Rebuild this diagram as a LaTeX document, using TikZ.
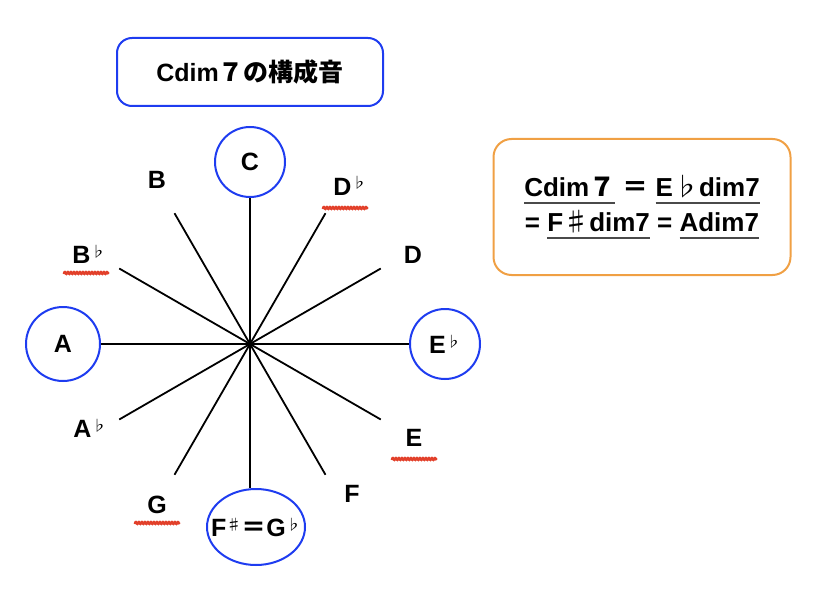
\documentclass[tikz,border=0pt]{standalone}
\usepackage{fontspec}
\setmainfont{Liberation Sans}
\newfontfamily\jpfont{Noto Sans CJK JP}
\usetikzlibrary{positioning, calc, shapes.geometric, decorations.pathmorphing}
\definecolor{cblue}{HTML}{1E3CF0}
\definecolor{corange}{HTML}{F0A044}
\definecolor{cred}{HTML}{E2402A}
\definecolor{cgrey}{HTML}{4A4A4A}
% small raised flat / sharp signs
\newcommand\fl{\raisebox{6pt}{\jpfont\mdseries\fontsize{15}{15}\selectfont ♭}}
\newcommand\shp{\raisebox{6pt}{\jpfont\mdseries\fontsize{15}{15}\selectfont ♯}}
\newsavebox\glinebox
\newcommand\gline[1]{\sbox\glinebox{#1}\rlap{\textcolor{cgrey}{\rule[-7pt]{\wd\glinebox}{1.8pt}}}\usebox\glinebox}
\tikzset{
  every picture/.style={font=\fontsize{25}{30}\selectfont\bfseries, line width=2pt},
  panel/.style={draw=#1, rounded corners=15pt, align=center, inner sep=0pt},
  ring/.style={draw=cblue, circle, inner sep=0pt},
  spoke/.style={draw=black, line width=1.8pt},
  redline/.style={draw=cred, line width=3pt, line cap=round, decorate,
    decoration={snake, amplitude=0.6pt, segment length=3pt}},
}

\begin{document}
\begin{tikzpicture}[x=1pt, y=-1pt]
  \useasboundingbox (0,0) rectangle (830,615);
  \node[panel=cblue, minimum width=266, minimum height=68] (ttl) at (250,72) {Cdim{\jpfont ７の構成音}};
  \node[panel=corange, minimum width=297, minimum height=136, rounded corners=18pt,
        font=\fontsize{26}{35}\selectfont\bfseries] (eq) at (642,207)
    {\gline{Cdim{\jpfont ７}}\ {\jpfont ＝} \gline{E{\jpfont\mdseries ♭}dim7}\\
     = \gline{F{\jpfont\mdseries ♯}dim7} = \gline{Adim7}};
  % the circled chord tones
  \coordinate (o) at (250,344);
  \node[ring, minimum size=70] (C) at (250,162) {C};
  \node[ring, minimum size=74] (A) at (63,344) {A};
  \node[ring, minimum size=70] (Eb) at (445,344) {E\fl};
  \node[draw=cblue, ellipse, inner xsep=-11pt, inner ysep=0pt, minimum width=98, minimum height=76] (Fs) at (256,527)
    {F\shp{\jpfont ＝}G\fl};
  \foreach \n in {C, A, Eb} \draw[spoke] (o) -- (\n);
  \draw[spoke] (o) -- (o |- Fs.north);
  \foreach \a in {30, 60, 120, 150, 210, 240, 300, 330} {
    \coordinate (s\a) at ($(o)+(-\a:151)$);
    \draw[spoke] (o) -- (s\a);
  }
  % the other tones
  \foreach \n/\t/\x/\y in {B/B/157/189, Db/D\fl/350/195, D/D/413/263, Bb/B\fl/89/263,
                           E/E/414/446, F/F/352/502, G/G/157/513, Ab/A\fl/90/437}
    \node[anchor=base, inner sep=0pt] (\n) at (\x,\y) {\t};
  \foreach \n/\dx/\dy in {Db/-5/13, Bb/-3/10, E/0/13, G/0/10}
    \draw[redline] ([xshift=\dx pt-22pt, yshift=-\dy pt]\n.base) -- ++(44,0);
\end{tikzpicture}
\end{document}
